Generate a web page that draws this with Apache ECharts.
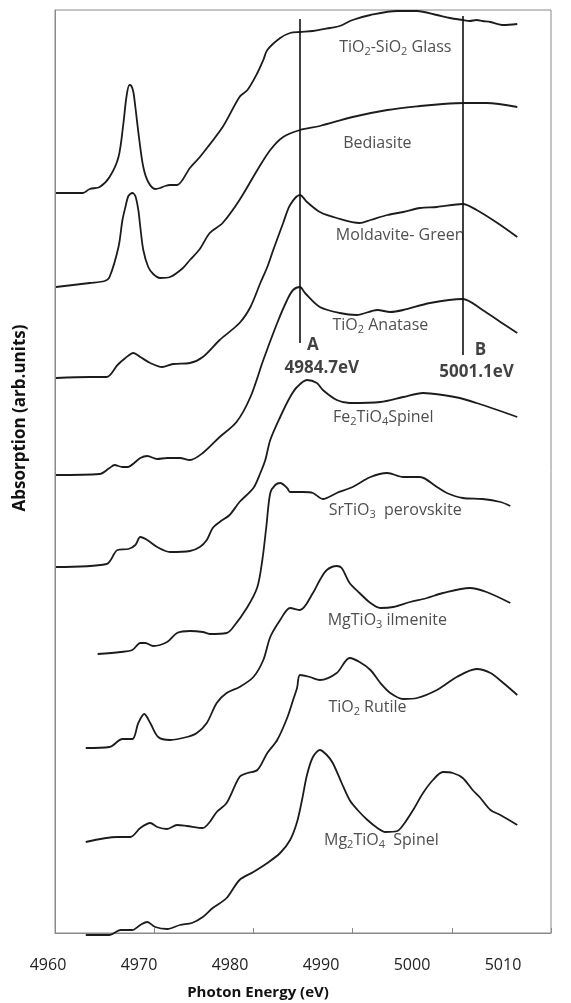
<!DOCTYPE html>
<html><head><meta charset="utf-8">
<script src="https://cdn.jsdelivr.net/npm/echarts@6/dist/echarts.min.js"></script>
<style>html,body{margin:0;padding:0;background:#fff}#c{width:571px;height:1003px}</style>
</head><body><div id="c"></div>
<script>
// ---- data (Photon energy eV, absorption arb. units, curves offset vertically) ----
const xTicks = [4960, 4970, 4980, 4990, 5000, 5010];

const glass = [[4960.1,7.40],[4962.8,7.40],[4963.5,7.44],[4964.5,7.46],[4965.5,7.56],[4966.4,7.76],[4966.9,8.10],[4967.2,8.36],[4967.5,8.48],[4967.7,8.47],[4967.9,8.41],[4968.1,8.26],[4968.5,7.93],[4968.9,7.66],[4969.4,7.51],[4970.1,7.44],[4970.6,7.45],[4971.1,7.47],[4971.6,7.48],[4972.3,7.48],[4973.6,7.65],[4974.6,7.76],[4976.9,8.06],[4978.6,8.36],[4979.4,8.43],[4980.4,8.60],[4981.0,8.73],[4981.4,8.83],[4982.7,8.95],[4983.7,9.00],[4984.7,9.01],[4986.0,9.02],[4987.7,9.05],[4988.7,9.07],[4990.0,9.13],[4991.8,9.18],[4994.5,9.22],[4996.5,9.22],[4998.5,9.18],[4999.8,9.15],[5001.1,9.13],[5001.8,9.12],[5002.5,9.13],[5003.1,9.12],[5003.9,9.11],[5005.2,9.08],[5006.6,9.09]];

const bediasite = [[4960.1,6.46],[4963.5,6.50],[4965.0,6.52],[4965.5,6.56],[4966.4,6.86],[4966.8,7.13],[4967.1,7.26],[4967.4,7.37],[4967.8,7.40],[4968.1,7.37],[4968.4,7.23],[4968.6,7.06],[4968.9,6.83],[4969.4,6.66],[4969.9,6.59],[4970.6,6.55],[4971.6,6.56],[4972.9,6.65],[4973.6,6.73],[4974.6,6.84],[4975.6,7.00],[4976.9,7.10],[4978.6,7.33],[4980.4,7.63],[4981.7,7.83],[4983.0,7.96],[4984.7,8.03],[4986.7,8.07],[4990.0,8.16],[4993.5,8.23],[4996.8,8.27],[4999.1,8.29],[5001.3,8.30],[5003.5,8.30],[5006.6,8.26]];

const moldavite = [[4960.1,5.55],[4963.5,5.56],[4965.2,5.56],[4966.3,5.68],[4967.1,5.75],[4967.9,5.80],[4968.6,5.76],[4969.6,5.70],[4970.8,5.66],[4971.9,5.69],[4973.6,5.70],[4974.9,5.76],[4976.6,5.93],[4978.6,6.10],[4979.7,6.26],[4980.7,6.50],[4981.4,6.66],[4982.0,6.83],[4983.0,7.10],[4983.7,7.28],[4984.7,7.38],[4985.4,7.31],[4986.7,7.21],[4988.4,7.15],[4990.7,7.10],[4991.8,7.13],[4993.5,7.18],[4995.1,7.21],[4996.8,7.25],[4998.5,7.26],[5001.1,7.29],[5002.5,7.23],[5004.6,7.10],[5006.6,6.96]];

const anatase = [[4960.1,4.58],[4964.5,4.59],[4965.5,4.65],[4966.0,4.68],[4966.8,4.66],[4967.3,4.66],[4968.6,4.75],[4969.3,4.77],[4970.3,4.74],[4971.3,4.75],[4972.6,4.75],[4973.6,4.73],[4974.9,4.80],[4976.6,4.96],[4978.3,5.11],[4979.7,5.36],[4981.0,5.73],[4982.4,6.10],[4983.4,6.33],[4984.0,6.43],[4984.7,6.46],[4985.2,6.40],[4986.7,6.26],[4988.7,6.20],[4990.4,6.18],[4992.5,6.23],[4993.8,6.21],[4995.1,6.23],[4997.8,6.30],[5001.1,6.34],[5003.1,6.23],[5004.9,6.11],[5006.6,6.00]];

const fe2tio4 = [[4960.1,3.66],[4965.2,3.69],[4966.3,3.83],[4967.4,3.84],[4968.1,3.88],[4968.6,3.96],[4969.3,3.93],[4970.3,3.86],[4971.6,3.81],[4973.6,3.82],[4974.6,3.86],[4975.3,3.93],[4975.9,4.05],[4976.6,4.11],[4977.6,4.18],[4978.6,4.31],[4980.0,4.45],[4980.7,4.60],[4981.2,4.73],[4981.7,4.93],[4982.7,5.16],[4983.7,5.36],[4984.4,5.46],[4985.4,5.53],[4986.4,5.50],[4987.0,5.43],[4988.4,5.33],[4989.7,5.30],[4992.8,5.31],[4995.1,5.36],[4997.1,5.40],[4999.1,5.38],[5000.8,5.35],[5002.5,5.30],[5004.6,5.23],[5006.6,5.16]];

const srtio3 = [[4964.3,2.79],[4966.6,2.81],[4967.8,2.83],[4968.6,2.90],[4969.1,2.90],[4969.9,2.87],[4971.3,2.91],[4972.3,3.00],[4973.6,3.02],[4974.9,3.01],[4975.6,2.99],[4977.3,3.00],[4977.9,3.05],[4979.4,3.26],[4980.4,3.46],[4980.9,3.73],[4981.3,4.06],[4981.7,4.40],[4982.2,4.48],[4982.7,4.50],[4983.4,4.45],[4983.7,4.41],[4985.0,4.41],[4986.0,4.40],[4987.0,4.34],[4988.4,4.40],[4990.0,4.46],[4991.8,4.56],[4993.5,4.60],[4995.1,4.56],[4996.8,4.56],[4998.5,4.46],[4999.5,4.40],[5001.1,4.35],[5003.1,4.34],[5004.9,4.31],[5005.9,4.27]];

const mgtio3 = [[4963.1,1.85],[4965.5,1.86],[4966.8,1.94],[4967.8,1.94],[4968.4,2.10],[4969.0,2.19],[4969.6,2.10],[4970.4,1.96],[4971.6,1.93],[4973.3,1.96],[4974.3,2.00],[4975.3,2.10],[4976.3,2.30],[4977.3,2.40],[4978.6,2.46],[4980.0,2.56],[4981.0,2.73],[4981.7,2.96],[4982.7,3.13],[4983.7,3.25],[4984.7,3.23],[4986.0,3.40],[4986.7,3.53],[4987.4,3.63],[4988.4,3.67],[4988.9,3.65],[4989.7,3.50],[4990.7,3.40],[4991.8,3.30],[4992.8,3.25],[4994.1,3.26],[4995.8,3.31],[4997.5,3.35],[4999.1,3.40],[5001.8,3.45],[5003.5,3.41],[5005.9,3.30]];

const rutile = [[4963.1,0.91],[4966.3,0.96],[4967.6,0.96],[4968.6,1.05],[4969.6,1.10],[4970.3,1.06],[4971.3,1.04],[4972.3,1.08],[4973.3,1.07],[4974.9,1.05],[4975.6,1.11],[4976.3,1.21],[4977.3,1.30],[4978.6,1.56],[4979.4,1.60],[4980.4,1.63],[4981.4,1.80],[4982.4,1.93],[4983.4,2.15],[4984.0,2.33],[4984.4,2.45],[4984.7,2.58],[4985.7,2.56],[4986.7,2.53],[4988.4,2.60],[4989.7,2.75],[4990.7,2.71],[4991.8,2.63],[4992.8,2.50],[4993.8,2.40],[4995.1,2.34],[4996.5,2.35],[4998.5,2.43],[5000.5,2.56],[5002.5,2.64],[5003.9,2.60],[5005.2,2.50],[5006.6,2.38]];

const mg2tio4 = [[4963.1,-0.02],[4965.5,-0.02],[4966.6,0.03],[4967.8,0.03],[4968.6,0.08],[4969.3,0.11],[4970.1,0.06],[4971.3,0.04],[4972.6,0.08],[4973.8,0.10],[4974.9,0.16],[4975.9,0.25],[4977.3,0.35],[4978.6,0.53],[4980.0,0.61],[4981.4,0.70],[4982.7,0.80],[4983.7,0.93],[4984.4,1.11],[4984.9,1.33],[4985.4,1.58],[4986.0,1.76],[4986.7,1.83],[4987.4,1.78],[4988.0,1.70],[4988.9,1.50],[4989.7,1.33],[4990.5,1.23],[4991.5,1.13],[4992.5,1.05],[4993.3,1.01],[4994.5,1.02],[4995.1,1.08],[4996.1,1.23],[4997.1,1.40],[4998.1,1.53],[4999.1,1.61],[5000.1,1.60],[5001.1,1.55],[5002.1,1.43],[5002.8,1.36],[5003.9,1.23],[5004.9,1.18],[5006.6,1.08]];

const curves = [glass, bediasite, moldavite, anatase, fe2tio4, srtio3, mgtio3, rutile, mg2tio4];
const curveNames = ['TiO2-SiO2 Glass','Bediasite','Moldavite- Green','TiO2 Anatase','Fe2TiO4 Spinel','SrTiO3 perovskite','MgTiO3 ilmenite','TiO2 Rutile','Mg2TiO4 Spinel'];
const curveLabels = ['TiO{s|2}-SiO{s|2} Glass','Bediasite','Moldavite- Green','TiO{s|2} Anatase','Fe{s|2}TiO{s|4}Spinel','SrTiO{s|3}  perovskite','MgTiO{s|3} ilmenite','TiO{s|2} Rutile','Mg{s|2}TiO{s|4}  Spinel'];
const labelAnchors = [[4994.3,8.86],[4992.5,7.90],[4994.8,6.98],[4992.8,6.08],[4993.1,5.16],[4994.3,4.23],[4993.5,3.13],[4991.5,2.26],[4992.9,0.93]];

// reference lines A and B
const markerEnergies = [4984.7, 5001.1];
const markerSpans = [[5.90, 9.14], [5.78, 9.17]];
const markerLetters = ['A', 'B'];
const markerLetterAnchors = [[4986.0, 5.88], [5002.9, 5.83]];
const markerValueAnchors = [[4986.9, 5.65], [5002.5, 5.61]];

// ---- chart ----
const FONT = '"Open Sans", "Noto Sans", sans-serif';
const chart = echarts.init(document.getElementById('c'), null, {renderer: 'canvas'});

const series = curves.map((d, i) => ({
  name: curveNames[i], type: 'line', xAxisIndex: 0, yAxisIndex: 0,
  data: d, showSymbol: false, symbol: 'none', smooth: 0.3, clip: false,
  lineStyle: {color: '#1c1c1c', width: 1.8}
}));

series[0].markLine = {
  silent: true, symbol: 'none', animation: false,
  label: {show: false},
  lineStyle: {color: '#111', width: 1.6, type: 'solid'},
  data: markerEnergies.map((e, i) => [{coord: [e, markerSpans[i][1]]}, {coord: [e, markerSpans[i][0]]}])
};

const textItems = [];
labelAnchors.forEach((p, i) => textItems.push({
  value: p,
  label: {show: true, position: 'inside', formatter: curveLabels[i], fontFamily: FONT, fontSize: 16, color: '#222', lineHeight: 20,
    rich: {s: {fontFamily: FONT, fontSize: 11, color: '#222', verticalAlign: 'bottom', lineHeight: 10}}}
}));
markerLetterAnchors.forEach((p, i) => textItems.push({
  value: p,
  label: {show: true, position: 'inside', formatter: markerLetters[i], fontFamily: FONT, fontWeight: 'bold', fontSize: 17, color: '#111'}
}));
markerValueAnchors.forEach((p, i) => textItems.push({
  value: p,
  label: {show: true, position: 'inside', formatter: markerEnergies[i].toFixed(1) + 'eV', fontFamily: FONT, fontWeight: 'bold', fontSize: 17, color: '#111'}
}));

series.push({
  type: 'scatter', xAxisIndex: 0, yAxisIndex: 0, symbolSize: 0, silent: true,
  data: textItems, z: 5
});

chart.setOption({
  animation: false,
  backgroundColor: '#fff',
  grid: [
    {left: 55, right: 20, top: 10, bottom: 70, show: true, borderColor: '#8a8a8a', borderWidth: 1, backgroundColor: 'transparent'},
    {left: 48, right: 68, top: 10, bottom: 70, show: false}
  ],
  xAxis: [
    {gridIndex: 0, type: 'value', min: xTicks[0], max: xTicks[xTicks.length - 1], interval: xTicks[1] - xTicks[0],
      axisLine: {show: true, lineStyle: {color: '#8a8a8a', width: 1}},
      axisTick: {show: true, inside: true, length: 5, lineStyle: {color: '#8a8a8a'}},
      axisLabel: {show: false}, splitLine: {show: false}},
    {gridIndex: 1, type: 'value', min: xTicks[0], max: xTicks[xTicks.length - 1], interval: xTicks[1] - xTicks[0],
      axisLine: {show: false}, axisTick: {show: false}, splitLine: {show: false},
      axisLabel: {show: true, fontFamily: FONT, fontSize: 16, color: '#222', margin: 24, formatter: v => String(v)}}
  ],
  yAxis: [
    {gridIndex: 0, type: 'value', min: 0, max: 9.23,
      axisLine: {show: true, lineStyle: {color: '#8a8a8a', width: 1}},
      axisTick: {show: false}, axisLabel: {show: false}, splitLine: {show: false}},
    {gridIndex: 1, type: 'value', min: 0, max: 9.23, show: false}
  ],
  graphic: [
    {type: 'text', x: 258, y: 993, style: {text: 'Photon Energy (eV)', font: 'bold 15px ' + FONT, fill: '#111', textAlign: 'center', textVerticalAlign: 'middle'}},
    {type: 'text', x: 20, y: 418, rotation: Math.PI / 2, style: {text: 'Absorption (arb.units)', font: 'bold 17px ' + FONT, fill: '#111', textAlign: 'center', textVerticalAlign: 'middle'}}
  ],
  series: series
});
</script>
</body></html>
